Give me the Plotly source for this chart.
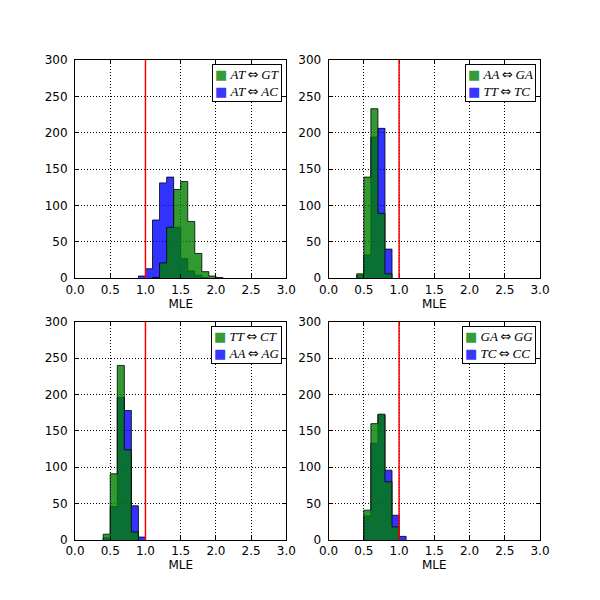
import plotly.graph_objects as go

# ---------------- data (counts per 0.1-wide MLE bin) ----------------
BIN_WIDTH = 0.1

labels_green = ["AT⇔GT", "AA⇔GA", "TT⇔CT", "GA⇔GG"]
labels_blue = ["AT⇔AC", "TT⇔TC", "AA⇔AG", "TC⇔CC"]

green_start = [1.1, 0.4, 0.4, 0.5]
blue_start = [0.9, 0.4, 0.4, 0.5]

green_counts_1 = [1, 21, 70, 122, 133, 78, 34, 9, 3, 1]
blue_counts_1 = [3, 13, 80, 131, 139, 70, 27, 10, 4, 1]

green_counts_2 = [6, 139, 233, 89, 6]
blue_counts_2 = [4, 32, 194, 206, 40]

green_counts_3 = [8, 91, 240, 124, 11]
blue_counts_3 = [3, 46, 196, 178, 47, 4]

green_counts_4 = [41, 160, 173, 80, 18]
blue_counts_4 = [33, 133, 172, 96, 34, 5]

green_counts = [green_counts_1, green_counts_2, green_counts_3, green_counts_4]
blue_counts = [blue_counts_1, blue_counts_2, blue_counts_3, blue_counts_4]

x_ticks = [0.0, 0.5, 1.0, 1.5, 2.0, 2.5, 3.0]
x_tick_text = ["0.0", "0.5", "1.0", "1.5", "2.0", "2.5", "3.0"]
y_ticks = [0, 50, 100, 150, 200, 250, 300]
reference_value = 1.0

GREEN = "rgba(0,128,0,0.8)"
BLUE = "rgba(0,0,255,0.8)"


def step_xy(start, counts):
    edges = [round(start + k * BIN_WIDTH, 3) for k in range(len(counts) + 1)]
    xs = [edges[0]] + edges
    ys = [0] + list(counts) + [0]
    return xs, ys


def math_label(s):
    a, b = s.split("⇔")
    return (f"<i>{a}</i><span style='font-family:DejaVu Sans'>\u2009⇔\u2009</span>"
            f"<i>{b}</i>")


def patch(color):
    return f"<span style='font-family:DejaVu Sans;color:{color}'>■</span>"


# ---------------- layout geometry (page body has an 8px offset) ----------------
W = H = 600
OFF = 8
ax_left = [75 - OFF, 328.6 - OFF]
ax_right = [286.4 - OFF, 540 - OFF]
ax_top = [60 - OFF, 321.8 - OFF]
ax_bottom = [278.2 - OFF, 540 - OFF]

x_domains = [[ax_left[c] / W, ax_right[c] / W] for c in range(2)]
y_domains = [[1 - ax_bottom[r] / H, 1 - ax_top[r] / H] for r in range(2)]

fig = go.Figure()

for i in range(4):
    row, col = divmod(i, 2)
    suffix = "" if i == 0 else str(i + 1)
    xa, ya = "x" + suffix, "y" + suffix

    bx, by = step_xy(blue_start[i], blue_counts[i])
    gx, gy = step_xy(green_start[i], green_counts[i])

    fig.add_trace(go.Scatter(
        x=bx, y=by, mode="lines", line_shape="hv", fill="tozeroy",
        fillcolor=BLUE, line=dict(color="rgba(0,0,0,0.8)", width=1),
        name=labels_blue[i], xaxis=xa, yaxis=ya, showlegend=False,
        hoverinfo="skip"))
    fig.add_trace(go.Scatter(
        x=gx, y=gy, mode="lines", line_shape="hv", fill="tozeroy",
        fillcolor=GREEN, line=dict(color="rgba(0,0,0,0.8)", width=1),
        name=labels_green[i], xaxis=xa, yaxis=ya, showlegend=False,
        hoverinfo="skip"))

    axis_common = dict(
        showline=True, linecolor="black", linewidth=1, mirror="ticks",
        ticks="inside", ticklen=4, tickcolor="black", tickwidth=1,
        showgrid=True, gridcolor="black", gridwidth=1, griddash="1px,2px",
        zeroline=False, automargin=False,
        tickfont=dict(family="DejaVu Sans", size=12, color="black"),
    )
    fig.layout["xaxis" + suffix] = dict(
        axis_common, domain=x_domains[col], anchor=ya, range=[0, 3],
        tickvals=x_ticks, ticktext=x_tick_text, ticklabelstandoff=0,
        title=dict(text="MLE", font=dict(family="DejaVu Sans", size=12, color="black"),
                   standoff=0),
    )
    fig.layout["yaxis" + suffix] = dict(
        axis_common, domain=y_domains[row], anchor=xa, range=[0, 300],
        tickvals=y_ticks, ticklabelstandoff=4,
    )

    fig.add_shape(type="line", xref=xa, yref=ya, x0=reference_value, x1=reference_value,
                  y0=0, y1=300, line=dict(color="red", width=1.5), layer="above")

    legend_text = (
        f"{patch(GREEN)} {math_label(labels_green[i])}<br>"
        f"{patch(BLUE)} {math_label(labels_blue[i])}"
    )
    fig.add_annotation(
        xref="paper", yref="paper",
        x=(ax_right[col] - 4) / W, y=1 - (ax_top[row] + 4) / H,
        xanchor="right", yanchor="top", align="left", showarrow=False,
        text=legend_text, bgcolor="white", bordercolor="black", borderwidth=1,
        borderpad=2, font=dict(family="Liberation Serif", size=13, color="black"),
    )

fig.update_layout(
    width=W, height=H, margin=dict(l=0, r=0, t=0, b=0, autoexpand=False),
    paper_bgcolor="white", plot_bgcolor="white", showlegend=False,
)

fig.write_html("out.html")
